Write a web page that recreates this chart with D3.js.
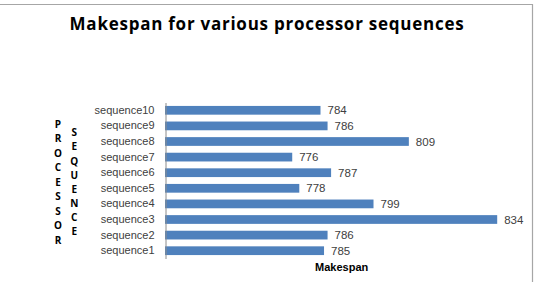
<!DOCTYPE html>
<html>
<head>
<meta charset="utf-8">
<script src="https://cdn.jsdelivr.net/npm/d3@7"></script>
<style>
  body { margin: 0; background: #fff; }
  text { font-family: "Liberation Sans", Arial, sans-serif; }
</style>
</head>
<body>
<div id="chart"></div>
<script>
// data
var categories = ["sequence1", "sequence2", "sequence3", "sequence4", "sequence5",
                  "sequence6", "sequence7", "sequence8", "sequence9", "sequence10"];
var makespan = [785, 786, 834, 799, 778, 787, 776, 809, 786, 784];
var xDomain = [740, 840];
var titleText = "Makespan for various processor sequences";
var xTitle = "Makespan";
var yTitle1 = "PROCESSOR";
var yTitle2 = "SEQUENCE";

var w = 544, h = 282;
var bar_color = "#4f81bd";
var text_color = "#404040";

var svg = d3.select("#chart")
    .append("svg")
    .attr("width", w)
    .attr("height", h);

// frame (top and right edges show in the picture)
svg.append("path")
    .attr("d", "M0,4.5H532.5V282")
    .style("fill", "none")
    .style("stroke", "#a6a6a6")
    .style("stroke-width", 1.2);

var x = d3.scaleLinear().domain(xDomain).range([165, 518.4]);
var y = d3.scaleBand()
    .domain(categories.slice().reverse())
    .range([102.5, 258.5])
    .paddingInner(0.44)
    .paddingOuter(0.22);

var rows = categories.map(function(c, i) { return { name: c, value: makespan[i] }; });

svg.selectAll("rect.bar")
    .data(rows)
    .enter()
    .append("rect")
    .attr("class", "bar")
    .attr("x", x(xDomain[0]))
    .attr("y", function(d) { return y(d.name); })
    .attr("width", function(d) { return x(d.value) - x(xDomain[0]); })
    .attr("height", y.bandwidth())
    .style("fill", bar_color);

// category axis
var yAxis = svg.append("g")
    .attr("transform", "translate(165.5,0)")
    .call(d3.axisLeft(y).tickSize(0).tickPadding(11));
yAxis.select(".domain").attr("stroke", "#8c8c8c");
yAxis.selectAll("text")
    .style("font-size", "11px")
    .style("fill", text_color)
    .style("font-family", "'Liberation Sans', Arial, sans-serif");

// value labels
svg.selectAll("text.val")
    .data(rows)
    .enter()
    .append("text")
    .attr("class", "val")
    .attr("x", function(d) { return x(d.value) + 7; })
    .attr("y", function(d) { return y(d.name) + y.bandwidth() / 2; })
    .attr("dy", "0.36em")
    .style("font-size", "11.5px")
    .style("fill", text_color)
    .text(function(d) { return d.value; });

// title
svg.append("text")
    .attr("x", 267)
    .attr("y", 29.5)
    .attr("text-anchor", "middle")
    .style("font-family", "'Open Sans', sans-serif")
    .style("font-size", "17px")
    .style("letter-spacing", "0.75px")
    .style("font-weight", "bold")
    .style("fill", "#000")
    .text(titleText);

// x axis title
svg.append("text")
    .attr("x", 341.7)
    .attr("y", 270.5)
    .attr("text-anchor", "middle")
    .style("font-size", "11px")
    .style("font-weight", "bold")
    .style("fill", "#000")
    .text(xTitle);

// stacked vertical y titles
function stacked(str, cx, top, step) {
    svg.append("g").selectAll("text")
        .data(str.split(""))
        .enter()
        .append("text")
        .attr("x", cx)
        .attr("y", function(d, i) { return top + i * step; })
        .attr("dy", "0.36em")
        .attr("text-anchor", "middle")
        .style("font-family", "'Open Sans', sans-serif")
        .style("font-size", "10px")
        .style("font-weight", "bold")
        .style("fill", "#000")
        .text(function(d) { return d; });
}
stacked(yTitle1, 58, 124.3, 14.5);
stacked(yTitle2, 74.3, 132.7, 14.14);
</script>
</body>
</html>
